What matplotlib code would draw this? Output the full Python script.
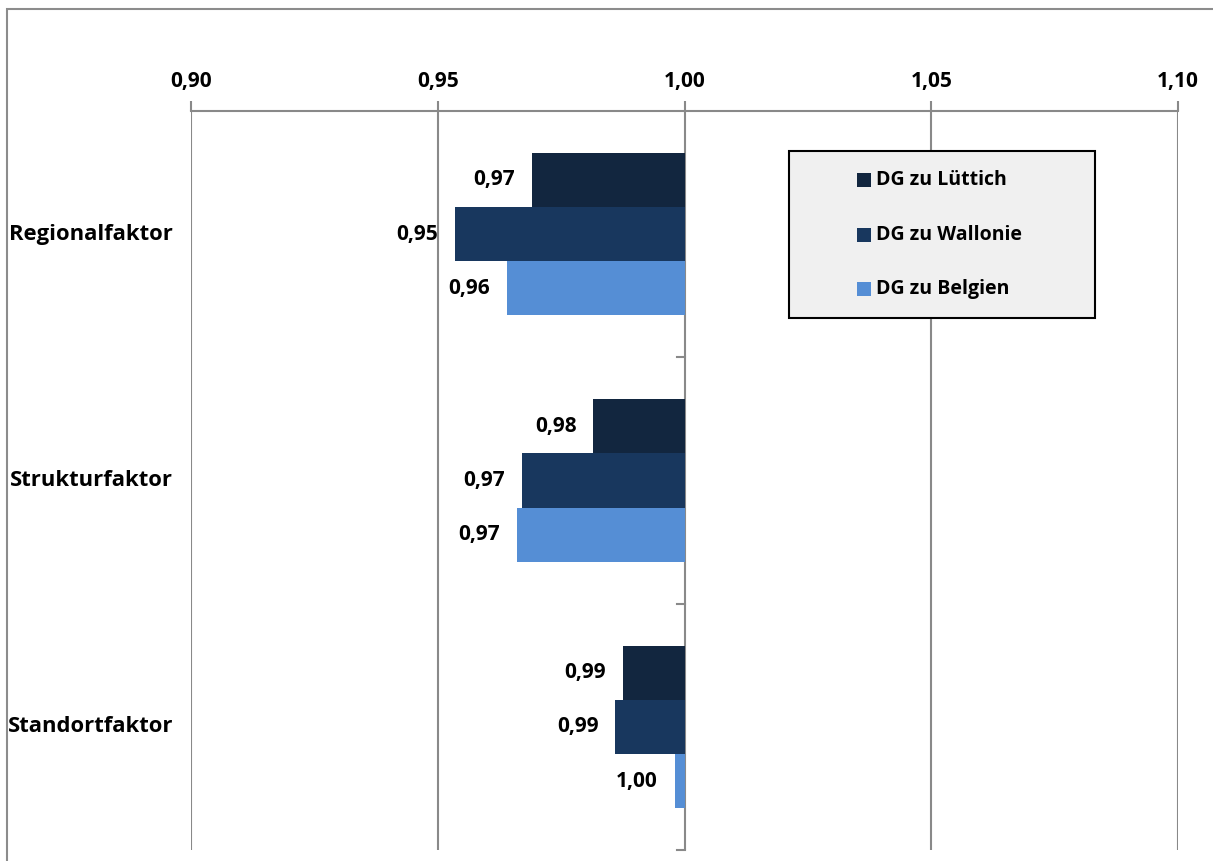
import matplotlib.pyplot as plt
import matplotlib.transforms as mtransforms
import numpy as np
from matplotlib.patches import Rectangle

categories = ['Regionalfaktor', 'Strukturfaktor', 'Standortfaktor']
series = ['DG zu Lüttich', 'DG zu Wallonie', 'DG zu Belgien']
luettich = [0.969, 0.9815, 0.9875]
wallonie = [0.9535, 0.967, 0.986]
belgien = [0.964, 0.966, 0.998]
xticks = [0.90, 0.95, 1.00, 1.05, 1.10]

colors = ['#12263F', '#18375E', '#558ED5']
grid_col = '#898989'

plt.rcParams['font.family'] = ['Open Sans', 'DejaVu Sans']
plt.rcParams['font.weight'] = 'bold'

fig = plt.figure(figsize=(12.13, 8.61), dpi=100)
W, H = 1213, 861
ax = fig.add_axes([191 / W, 1 - 850 / H, (1178 - 191) / W, (850 - 111) / H])

# outer chart border
fig.add_artist(Rectangle((7 / W, -0.05), 1.2, 1 - 9 / H + 0.05, transform=fig.transFigure,
                         fill=False, edgecolor='#8c8c8c', linewidth=1.5))

y = np.arange(len(categories))
h = 0.22
for k, (vals, col, name) in enumerate(zip([luettich, wallonie, belgien], colors, series)):
    yy = y + (k - 1) * h
    ax.barh(yy, np.array(vals) - 1, left=1, height=h, color=col, label=name, zorder=3)
    for yi, v in zip(yy, vals):
        ax.text(v - 0.0034, yi, f'{v:.2f}'.replace('.', ','), ha='right', va='center',
                fontsize=15, fontweight='bold', color='black')

ax.set_xlim(0.90, 1.10)
ax.set_ylim(2.5, -0.5)
ax.xaxis.tick_top()
ax.set_xticks(xticks)
ax.set_xticklabels([f'{t:.2f}'.replace('.', ',') for t in xticks], fontsize=15, fontweight='bold')
ax.tick_params(axis='x', length=7, width=1.5, color=grid_col, pad=7)
ax.set_yticks([])
for t in xticks:
    ax.axvline(t, color=grid_col, linewidth=1.5, zorder=1)
for s in ['left', 'right', 'bottom']:
    ax.spines[s].set_visible(False)
ax.spines['top'].set_color(grid_col)
ax.spines['top'].set_linewidth(1.5)

# category axis ticks at x = 1.00
for b in [0.5, 1.5, 2.5]:
    ax.plot([0.9985, 1.0], [b, b], color=grid_col, linewidth=1.5, clip_on=False, zorder=4)

trans = mtransforms.blended_transform_factory(fig.transFigure, ax.transData)
for yi, c in zip(y, categories):
    ax.text(173 / W, yi, c, transform=trans, ha='right', va='center',
            fontsize=15.8, fontweight='bold')

# legend box
fig.add_artist(Rectangle((789 / W, 1 - 318 / H), (1095 - 789) / W, (318 - 151) / H,
                         transform=fig.transFigure, facecolor='#F0F0F0', edgecolor='black',
                         linewidth=1.5, zorder=10))
for i, (c, name) in enumerate(zip(colors, series)):
    yc = 180 + i * 54.5
    fig.add_artist(Rectangle((857 / W, 1 - (yc + 7) / H), 14 / W, 14 / H,
                             transform=fig.transFigure, facecolor=c, edgecolor='none', zorder=11))
    fig.text(876 / W, 1 - yc / H, name, ha='left', va='center', fontsize=14,
             fontweight='bold', zorder=12)

fig.savefig('out.png', dpi=100)
